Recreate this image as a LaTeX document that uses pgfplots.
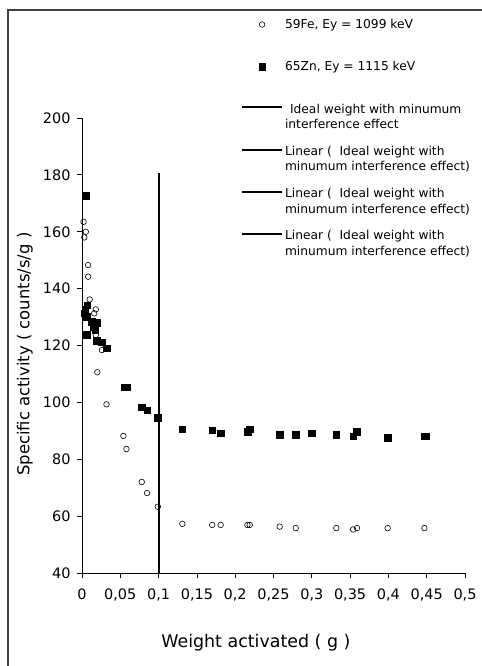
\documentclass[border=0pt]{standalone}
\usepackage{fontspec}
\setmainfont{DejaVu Sans}
\usepackage{pgfplots}
\pgfplotsset{compat=1.18}
\pgfplotsset{
  markleg/.style={legend image code/.code={\path (0bp,0bp) (40bp,0bp); \draw[##1] plot coordinates {(20bp,8bp)};}},
  lineleg/.style={legend image code/.code={\draw[##1] (0bp,9.5bp) -- (40bp,9.5bp);}},
}
\begin{document}
\begin{tikzpicture}
\useasboundingbox (0,0) rectangle (482bp,666bp);
% outer frame (left and top only, as in the source)
\draw[line width=1.5bp, black!75] (8bp,-2bp) -- (8bp,656bp) -- (484bp,656bp);
\begin{axis}[
  at={(82bp,93bp)}, anchor=south west,
  scale only axis, width=383bp, height=455bp,
  xmin=0, xmax=0.5, ymin=40, ymax=200,
  clip=false,
  axis lines=left, axis line style={-, line width=0.8bp},
  tick align=outside, major tick length=5bp,
  tick style={black, line width=0.8bp},
  xtick={0,0.05,0.1,0.15,0.2,0.25,0.3,0.35,0.4,0.45,0.5},
  ytick={40,60,80,100,120,140,160,180,200},
  /pgf/number format/assume math mode=true,
  tick label style={font=\fontsize{14.5}{17}\selectfont},
  xticklabel style={yshift=-7bp, /pgf/number format/.cd, fixed, use comma, precision=2},
  yticklabel style={xshift=-3bp},
  xlabel={Weight activated ( g )},
  ylabel={Specific activity ( counts/s/g )},
  xlabel style={at={(axis description cs:0.454,-0.154)}, anchor=center, font=\fontsize{17.5}{20}\selectfont},
  ylabel style={at={(axis description cs:-0.149,0.481)}, anchor=center, font=\fontsize{16.5}{19}\selectfont},
  legend style={at={(axis description cs:0.407,1.226)}, anchor=north west,
    draw=none, fill=none, font=\fontsize{12.3}{15.5}\selectfont,
    row sep=12bp, column sep=0bp, cells={align=left, inner xsep=1.5bp}},
  legend cell align=left,
]
\addlegendimage{only marks, mark=o, mark size=2.8bp, mark options={fill=white, line width=0.6bp}, markleg}
\addlegendentry{59Fe, Ey = 1099 keV\\\mbox{}}
\addlegendimage{only marks, mark=square*, mark size=3.3bp, markleg}
\addlegendentry{65Zn, Ey = 1115 keV\\\mbox{}}
\addlegendimage{line width=2bp, lineleg}
\addlegendentry{\hspace*{5bp}Ideal weight with minumum\\interference effect}
\addlegendimage{line width=2bp, lineleg}
\addlegendentry{Linear (\ \ Ideal weight with\\minumum interference effect)}
\addlegendimage{line width=2bp, lineleg}
\addlegendentry{Linear (\ \ Ideal weight with\\minumum interference effect)}
\addlegendimage{line width=2bp, lineleg}
\addlegendentry{Linear (\ \ Ideal weight with\\minumum interference effect)}

% ideal weight line
\addplot[black, line width=2bp, forget plot] coordinates {(0.1,40) (0.1,180.5)};
% 65Zn
\addplot[only marks, mark=square*, mark size=3.3bp, black, forget plot] coordinates {
 (0.005,172.6) (0.007,134.2) (0.004,132.5) (0.003,131.3) (0.006,130.1) (0.013,128.4)
 (0.019,128.0) (0.015,126.6) (0.017,125.4) (0.004,123.7) (0.007,123.7) (0.019,121.6)
 (0.026,121.1) (0.032,119.0) (0.055,105.3) (0.058,105.3) (0.078,98.3) (0.085,97.3)
 (0.099,94.7) (0.131,90.6) (0.170,90.2) (0.181,89.1) (0.216,89.6) (0.219,90.6)
 (0.258,88.6) (0.279,88.6) (0.300,89.1) (0.332,88.6) (0.354,88.1) (0.359,89.6)
 (0.399,87.6) (0.447,88.1) (0.449,88.1)
};
% 59Fe
\addplot[only marks, mark=o, mark size=2.8bp, black, mark options={fill=white, line width=0.6bp}, forget plot] coordinates {
 (0.002,163.5) (0.005,160.0) (0.003,158.0) (0.008,148.3) (0.008,144.2) (0.010,136.2)
 (0.018,132.7) (0.016,131.3) (0.006,130.0) (0.012,128.5) (0.018,123.7) (0.026,118.4)
 (0.020,110.6) (0.032,99.3) (0.054,88.2) (0.058,83.6) (0.078,72.0) (0.085,68.1)
 (0.099,63.3) (0.131,57.3) (0.170,56.9) (0.181,56.9) (0.216,56.9) (0.219,56.9)
 (0.258,56.3) (0.279,55.8) (0.332,55.8) (0.354,55.3) (0.359,55.8) (0.399,55.8)
 (0.447,55.8)
};
\end{axis}
\end{tikzpicture}
\end{document}
